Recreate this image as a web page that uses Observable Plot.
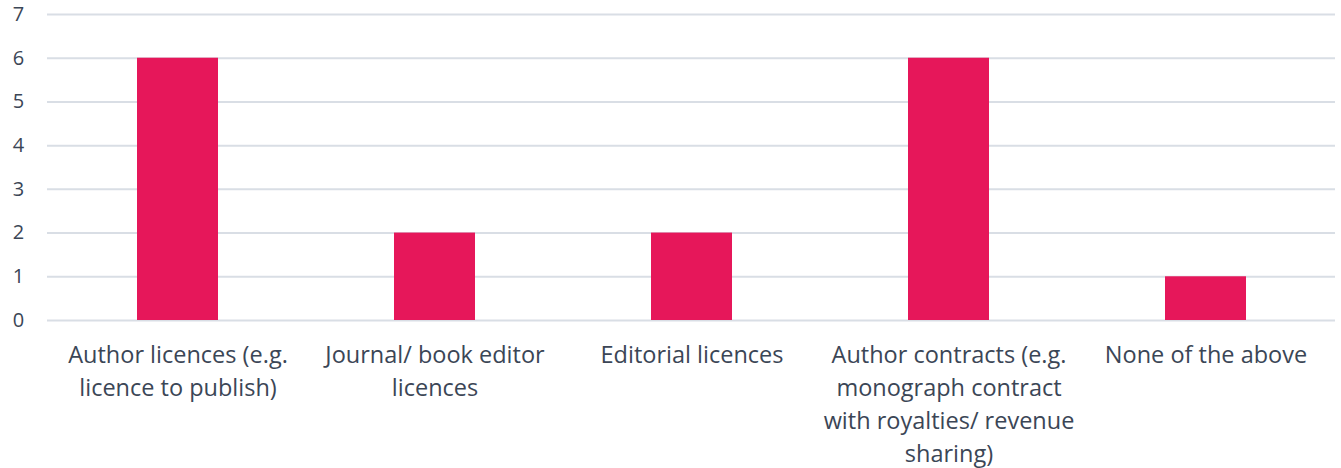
<!DOCTYPE html>
<html><head><meta charset="utf-8">
<script src="https://cdn.jsdelivr.net/npm/d3@7"></script>
<script src="https://cdn.jsdelivr.net/npm/@observablehq/plot@0.6"></script>
<style>
body{margin:0;background:#fff;}
svg{font-family:"Open Sans",Lato,sans-serif;}
</style>
</head><body><div id="chart"></div>
<script>
const categories = ["Author licences (e.g. licence to publish)","Journal/ book editor licences","Editorial licences","Author contracts (e.g. monograph contract with royalties/ revenue sharing)","None of the above"];
const values = [6,2,2,6,1];
const tickLabels = ["Author licences (e.g.\nlicence to publish)","Journal/ book editor\nlicences","Editorial licences","Author contracts (e.g.\nmonograph contract\nwith royalties/ revenue\nsharing)","None of the above"];
const yTicks = [0,1,2,3,4,5,6,7];

const data = categories.map((c,i)=>({category:c, value:values[i]}));
const labelOf = new Map(categories.map((c,i)=>[c,tickLabels[i]]));

const chart = Plot.plot({
  width:1341, height:468,
  marginTop:14, marginBottom:148, marginLeft:47, marginRight:6,
  style:{fontFamily:'"Open Sans",Lato,sans-serif', color:"#3b4656", background:"#fff"},
  x:{domain:categories, paddingInner:0.686, paddingOuter:0.343, label:null},
  y:{domain:[0,7], ticks:yTicks, label:null},
  marks:[
    Plot.gridY(yTicks,{stroke:"#d9dee5", strokeOpacity:1, strokeWidth:2}),
    Plot.barY(data,{x:"category", y:"value", fill:"#e6175a"}),
    Plot.axisY({ticks:yTicks, tickFormat:"d", tickSize:0, tickPadding:0, fontSize:20, textAnchor:"middle", dx:-29, label:null, fill:"#3b4656"}),
    Plot.axisX({tickSize:0, tickPadding:19, fontSize:23.5, lineHeight:1.4, tickFormat:d=>labelOf.get(d), label:null, fill:"#3b4656"})
  ]
});
document.getElementById("chart").appendChild(chart);
</script></body></html>
